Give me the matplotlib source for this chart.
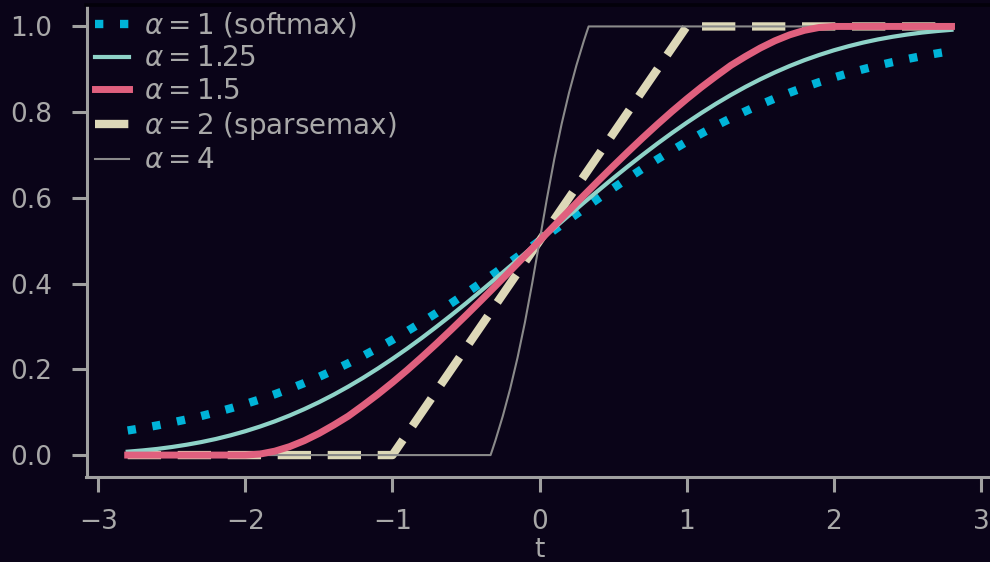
import matplotlib
matplotlib.use("Agg")
import matplotlib.pyplot as plt

# ---- data ----
t_grid = [-2.8, -2.7, -2.6, -2.5, -2.4, -2.3, -2.2, -2.1, -2.0, -1.9, -1.8, -1.7, -1.6, -1.5,
          -1.4, -1.3, -1.2, -1.1, -1.0, -0.9, -0.8, -0.7, -0.6, -0.5, -0.4, -0.3, -0.2, -0.1,
          0.0, 0.1, 0.2, 0.3, 0.4, 0.5, 0.6, 0.7, 0.8, 0.9, 1.0, 1.1, 1.2, 1.3, 1.4, 1.5,
          1.6, 1.7, 1.8, 1.9, 2.0, 2.1, 2.2, 2.3, 2.4, 2.5, 2.6, 2.7, 2.8]

softmax_vals = [0.0573, 0.0630, 0.0691, 0.0759, 0.0832, 0.0911, 0.0998, 0.1091, 0.1192, 0.1301,
                0.1419, 0.1545, 0.1680, 0.1824, 0.1978, 0.2142, 0.2315, 0.2497, 0.2689, 0.2891,
                0.3100, 0.3318, 0.3543, 0.3775, 0.4013, 0.4256, 0.4502, 0.4750,
                0.5000, 0.5250, 0.5498, 0.5744, 0.5987, 0.6225, 0.6457, 0.6682, 0.6900, 0.7109,
                0.7311, 0.7503, 0.7685, 0.7858, 0.8022, 0.8176, 0.8320, 0.8455, 0.8581, 0.8699,
                0.8808, 0.8909, 0.9002, 0.9089, 0.9168, 0.9241, 0.9309, 0.9370, 0.9427]

entmax125_vals = [0.0079, 0.0108, 0.0143, 0.0188, 0.0241, 0.0303, 0.0376, 0.0461, 0.0557, 0.0666,
                  0.0787, 0.0922, 0.1071, 0.1233, 0.1409, 0.1599, 0.1802, 0.2018, 0.2246, 0.2485,
                  0.2735, 0.2996, 0.3265, 0.3541, 0.3826, 0.4114, 0.4407, 0.4703,
                  0.5000, 0.5297, 0.5593, 0.5886, 0.6174, 0.6459, 0.6735, 0.7004, 0.7265, 0.7515,
                  0.7754, 0.7982, 0.8198, 0.8401, 0.8591, 0.8767, 0.8929, 0.9078, 0.9213, 0.9334,
                  0.9443, 0.9539, 0.9624, 0.9697, 0.9759, 0.9812, 0.9857, 0.9892, 0.9921]

entmax15_vals = [0.0, 0.0, 0.0, 0.0, 0.0, 0.0, 0.0, 0.0, 0.0, 0.0024,
                 0.0091, 0.0196, 0.0335, 0.0504, 0.0699, 0.0909, 0.1158, 0.1417, 0.1693, 0.1983,
                 0.2287, 0.2602, 0.2927, 0.3260, 0.3600, 0.3945, 0.4295, 0.4647,
                 0.5000, 0.5353, 0.5705, 0.6055, 0.6400, 0.6740, 0.7073, 0.7398, 0.7713, 0.8017,
                 0.8307, 0.8583, 0.8842, 0.9091, 0.9301, 0.9496, 0.9665, 0.9804, 0.9909, 0.9976,
                 1.0, 1.0, 1.0, 1.0, 1.0, 1.0, 1.0, 1.0, 1.0]

sparsemax_t = [-2.8, -1.0, 1.0, 2.8]
sparsemax_vals = [0.0, 0.0, 1.0, 1.0]

entmax4_t = [-2.8, -0.3333, -0.32, -0.3, -0.25, -0.2, -0.15, -0.1, -0.05, 0.0,
             0.05, 0.1, 0.15, 0.2, 0.25, 0.3, 0.32, 0.3333, 2.8]
entmax4_vals = [0.0, 0.0, 0.0135, 0.0345, 0.0911, 0.1548, 0.2271, 0.3092, 0.4013, 0.5,
                0.5987, 0.6908, 0.7729, 0.8452, 0.9089, 0.9655, 0.9865, 1.0, 1.0]

labels = [r"$\alpha=1$ (softmax)", r"$\alpha=1.25$", r"$\alpha=1.5$",
          r"$\alpha=2$ (sparsemax)", r"$\alpha=4$"]
x_ticks = [-3, -2, -1, 0, 1, 2, 3]
y_ticks = [0.0, 0.2, 0.4, 0.6, 0.8, 1.0]

# ---- style ----
bg = "#0a0418"
txt = "#a8a8a8"
spine_c = "#a0a0a0"

fig = plt.figure(figsize=(9.9, 5.62), dpi=100, facecolor=bg)
ax_w_px = 992.7 - 86.5
ax_h_px = 476.5 - 5
ax = fig.add_axes([86.5 / 990, 1 - 476.5 / 562, ax_w_px / 990, ax_h_px / 562])
ax.set_facecolor(bg)

h1, = ax.plot(t_grid, softmax_vals, color="#00b4d8", lw=6, linestyle=(0, (1, 2)),
              dash_capstyle="butt", zorder=1)
h4, = ax.plot(sparsemax_t, sparsemax_vals, color="#ddd8b8", lw=6, linestyle=(0, (4, 2)),
              dash_capstyle="butt", zorder=2)
h5, = ax.plot(entmax4_t, entmax4_vals, color="#8a8a8a", lw=1.5, zorder=3)
h2, = ax.plot(t_grid, entmax125_vals, color="#8fd3c8", lw=3, zorder=4)
h3, = ax.plot(t_grid, entmax15_vals, color="#e0607e", lw=5, zorder=5)

ax.set_xlim(-3.08, 3.08)
ax.set_ylim(-0.05, 1.05)
ax.set_xticks(x_ticks)
ax.set_yticks(y_ticks)
ax.set_xticklabels([f"{v:d}".replace("-", "\u2212") for v in x_ticks])
ax.set_yticklabels([f"{v:.1f}" for v in y_ticks])

for s in ["left", "bottom"]:
    ax.spines[s].set_color(spine_c)
    ax.spines[s].set_linewidth(2.2)
for s in ["top", "right"]:
    ax.spines[s].set_color("#03010a")
    ax.spines[s].set_linewidth(2.6)

ax.tick_params(axis="both", colors=spine_c, labelcolor=txt, labelsize=19,
               length=11, width=2.2, direction="out")
ax.tick_params(axis="x", pad=12.5)
ax.tick_params(axis="y", pad=14)
ax.set_xlabel("t", color=txt, fontsize=19, labelpad=1)

leg = ax.legend([h1, h2, h3, h4, h5], labels, loc="upper left", frameon=False,
                fontsize=20, handlelength=1.24, handletextpad=0.51,
                borderaxespad=0.0, borderpad=0.0, labelspacing=0.17,
                bbox_to_anchor=(8.5 / ax_w_px, 1 - 5.5 / ax_h_px))
for text in leg.get_texts():
    text.set_color(txt)

fig.savefig("out.png", dpi=100, facecolor=bg)
